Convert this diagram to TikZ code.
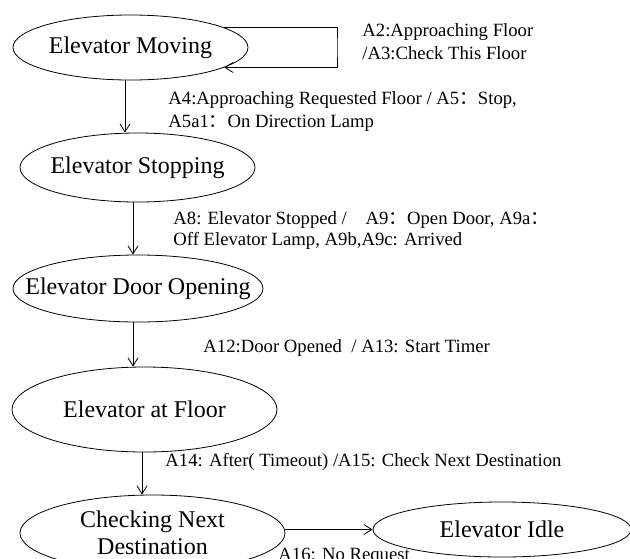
\documentclass[tikz,border=0pt]{standalone}
\usepackage{fontspec}
\setmainfont{Liberation Serif}
\newfontfamily\cjk{Noto Sans CJK SC}
\newcommand{\fwc}{{\cjk ：}}
\usetikzlibrary{shapes.geometric,arrows.meta}

\begin{document}
\begin{tikzpicture}[x=1pt, y=-1pt, line width=0.8pt,
    state/.style={ellipse, draw, inner xsep=-40pt, inner ysep=0pt, align=center,
        font=\fontsize{24}{27.5}\selectfont},
    trans/.style={-{Straight Barb[length=8pt,width=10pt]}},
    translabel/.style={anchor=west, inner sep=0pt, align=left,
        font=\fontsize{18.7}{23}\selectfont}]
    \useasboundingbox (0,0) rectangle (630,558);

    % Draw states
    \node[state, minimum width=235, minimum height=65] (moving) at (130.5,47.5) {Elevator Moving};
    \node[state, minimum width=235, minimum height=69] (stopping) at (137.5,167.5) {Elevator Stopping};
    \node[state, minimum width=250, minimum height=67] (door) at (138,288.5) {Elevator Door Opening};
    \node[state, minimum width=265, minimum height=85] (atfloor) at (144.5,409.5) {Elevator at Floor};
    \node[state, minimum width=265, minimum height=76] (checking) at (152.5,533) {Checking Next\\Destination};
    \node[state, minimum width=258, minimum height=55] (idle) at (502,529.5) {Elevator Idle};

    % Draw transitions
    \coordinate (loopc) at (337,47.5);
    \draw[trans] (moving.12) -| (loopc) |- (moving.-12);
    \draw[trans] ([xshift=-5.5]moving.south) -- ([xshift=-5.5]moving.south |- stopping.north);
    \draw[trans] ([xshift=-4.5]stopping.south) -- ([xshift=-4.5]stopping.south |- door.north);
    \draw[trans] ([xshift=-5]door.south) -- ([xshift=-5]door.south |- atfloor.north);
    \draw[trans] ([xshift=-2.5]atfloor.south) -- ([xshift=-2.5]atfloor.south |- checking.north);
    \draw[trans] (checking.east |- idle.west) -- (idle.west);

    % Add transition labels
    \node[translabel] (a2) at (362,42) {A2:Approaching Floor\\/A3:Check This Floor};
    \node[translabel] (a4) at (168,111.5) {A4:Approaching Requested Floor / A5\fwc Stop,\\A5a1\fwc On Direction Lamp};
    \node[translabel, font=\fontsize{18.7}{21}\selectfont] (a8) at (173,230) {A8: Elevator Stopped /\quad A9\fwc Open Door, A9a\fwc\\Off Elevator Lamp, A9b,A9c: Arrived};
    \node[translabel] (a12) at (203,348) {A12:Door Opened\ \ / A13: Start Timer};
    \node[translabel] (a14) at (165,462) {A14: After( Timeout) /A15: Check Next Destination};
    \node[translabel] (a16) at (278,556) {A16: No Request};
\end{tikzpicture}
\end{document}
